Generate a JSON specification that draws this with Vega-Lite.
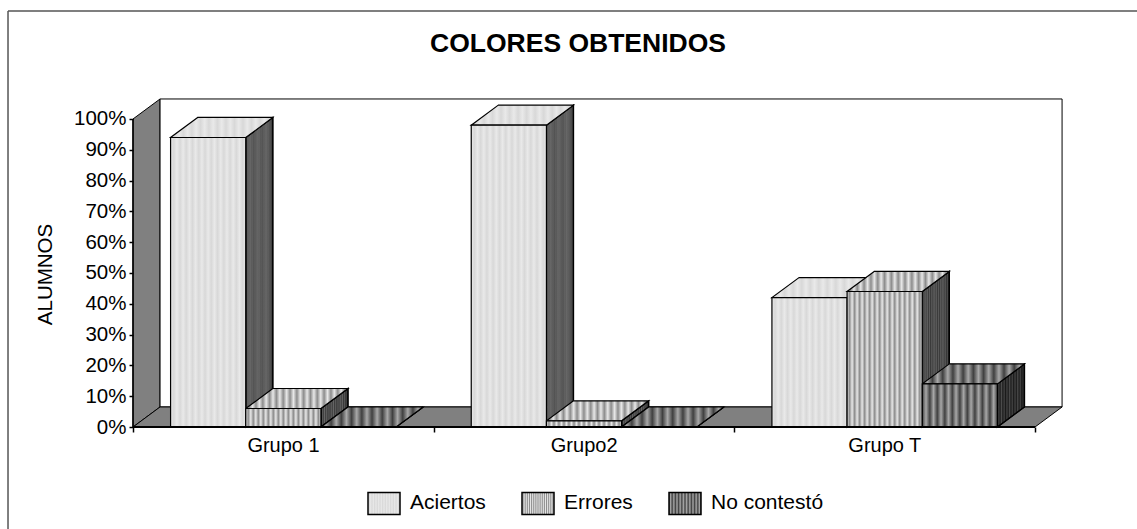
{
  "$schema": "https://vega.github.io/schema/vega-lite/v6.json",
  "width": 1004,
  "height": 427,
  "padding": {"left": 133, "top": 0, "right": 0, "bottom": 102},
  "autosize": {"type": "none"},
  "background": "white",
  "title": {"text": "COLORES OBTENIDOS", "anchor": "middle", "dx": -57, "dy": 57, "offset": 0, "font": "Liberation Sans", "fontSize": 26.5, "fontWeight": "bold", "color": "black"},
  "config": {"view": {"stroke": null}, "font": "Liberation Sans"},
  "params": [
    {"name": "tramas", "value": [
      {"gradient": "linear", "x1": 0, "y1": 0, "x2": 1, "y2": 0, "stops": [
        {"offset": 0, "color": "#e9e9e9"}, {"offset": 0.0417, "color": "#d8d8d8"}, {"offset": 0.0833, "color": "#e9e9e9"}, {"offset": 0.125, "color": "#d8d8d8"}, {"offset": 0.1667, "color": "#e9e9e9"}, {"offset": 0.2083, "color": "#d8d8d8"}, {"offset": 0.25, "color": "#e9e9e9"}, {"offset": 0.2917, "color": "#d8d8d8"}, {"offset": 0.3333, "color": "#e9e9e9"}, {"offset": 0.375, "color": "#d8d8d8"}, {"offset": 0.4167, "color": "#e9e9e9"}, {"offset": 0.4583, "color": "#d8d8d8"}, {"offset": 0.5, "color": "#e9e9e9"}, {"offset": 0.5417, "color": "#d8d8d8"}, {"offset": 0.5833, "color": "#e9e9e9"}, {"offset": 0.625, "color": "#d8d8d8"}, {"offset": 0.6667, "color": "#e9e9e9"}, {"offset": 0.7083, "color": "#d8d8d8"}, {"offset": 0.75, "color": "#e9e9e9"}, {"offset": 0.7917, "color": "#d8d8d8"}, {"offset": 0.8333, "color": "#e9e9e9"}, {"offset": 0.875, "color": "#d8d8d8"}, {"offset": 0.9167, "color": "#e9e9e9"}, {"offset": 0.9583, "color": "#d8d8d8"}, {"offset": 1, "color": "#e9e9e9"}
      ]},
      {"gradient": "linear", "x1": 0, "y1": 0, "x2": 1, "y2": 0, "stops": [
        {"offset": 0, "color": "#e8e8e8"}, {"offset": 0.0333, "color": "#8c8c8c"}, {"offset": 0.0667, "color": "#e8e8e8"}, {"offset": 0.1, "color": "#8c8c8c"}, {"offset": 0.1333, "color": "#e8e8e8"}, {"offset": 0.1667, "color": "#8c8c8c"}, {"offset": 0.2, "color": "#e8e8e8"}, {"offset": 0.2333, "color": "#8c8c8c"}, {"offset": 0.2667, "color": "#e8e8e8"}, {"offset": 0.3, "color": "#8c8c8c"}, {"offset": 0.3333, "color": "#e8e8e8"}, {"offset": 0.3667, "color": "#8c8c8c"}, {"offset": 0.4, "color": "#e8e8e8"}, {"offset": 0.4333, "color": "#8c8c8c"}, {"offset": 0.4667, "color": "#e8e8e8"}, {"offset": 0.5, "color": "#8c8c8c"}, {"offset": 0.5333, "color": "#e8e8e8"}, {"offset": 0.5667, "color": "#8c8c8c"}, {"offset": 0.6, "color": "#e8e8e8"}, {"offset": 0.6333, "color": "#8c8c8c"}, {"offset": 0.6667, "color": "#e8e8e8"}, {"offset": 0.7, "color": "#8c8c8c"}, {"offset": 0.7333, "color": "#e8e8e8"}, {"offset": 0.7667, "color": "#8c8c8c"}, {"offset": 0.8, "color": "#e8e8e8"}, {"offset": 0.8333, "color": "#8c8c8c"}, {"offset": 0.8667, "color": "#e8e8e8"}, {"offset": 0.9, "color": "#8c8c8c"}, {"offset": 0.9333, "color": "#e8e8e8"}, {"offset": 0.9667, "color": "#8c8c8c"}, {"offset": 1, "color": "#e8e8e8"}
      ]},
      {"gradient": "linear", "x1": 0, "y1": 0, "x2": 1, "y2": 0, "stops": [
        {"offset": 0, "color": "#404040"}, {"offset": 0.05, "color": "#a8a8a8"}, {"offset": 0.1, "color": "#404040"}, {"offset": 0.15, "color": "#a8a8a8"}, {"offset": 0.2, "color": "#404040"}, {"offset": 0.25, "color": "#a8a8a8"}, {"offset": 0.3, "color": "#404040"}, {"offset": 0.35, "color": "#a8a8a8"}, {"offset": 0.4, "color": "#404040"}, {"offset": 0.45, "color": "#a8a8a8"}, {"offset": 0.5, "color": "#404040"}, {"offset": 0.55, "color": "#a8a8a8"}, {"offset": 0.6, "color": "#404040"}, {"offset": 0.65, "color": "#a8a8a8"}, {"offset": 0.7, "color": "#404040"}, {"offset": 0.75, "color": "#a8a8a8"}, {"offset": 0.8, "color": "#404040"}, {"offset": 0.85, "color": "#a8a8a8"}, {"offset": 0.9, "color": "#404040"}, {"offset": 0.95, "color": "#a8a8a8"}, {"offset": 1, "color": "#404040"}
      ]}
    ]}
  ],
  "layer": [
    {
      "data": {"values": [{"marco_x": -0.4157, "marco_y": 135.06, "marco_y2": -33.2}]},
      "mark": {"type": "rule", "stroke": "#555555", "strokeWidth": 1.5},
      "encoding": {
        "x": {"field": "marco_x", "type": "quantitative", "scale": {"domain": [0, 3.3392], "nice": false, "zero": false}, "axis": {"orient": "bottom", "values": [0, 1, 2, 3], "title": null, "grid": false, "domain": false, "ticks": true, "tickSize": 5, "tickWidth": 1.5, "tickColor": "black", "labelExpr": "datum.value == 0 ? 'Grupo 1' : datum.value == 1 ? 'Grupo2' : datum.value == 2 ? 'Grupo T' : ''", "labelOffset": 150, "labelPadding": 3, "labelFontSize": 20, "labelColor": "black", "labelFlush": false, "labelOverlap": false, "labelFont": "Liberation Sans", "zindex": 1}},
        "y": {"field": "marco_y", "type": "quantitative", "scale": {"domain": [0, 138.636], "nice": false, "zero": false}, "axis": {"orient": "left", "values": [0, 10, 20, 30, 40, 50, 60, 70, 80, 90, 100], "title": "ALUMNOS", "titleFontSize": 20.5, "titleFontWeight": "normal", "titleColor": "black", "titleFont": "Liberation Sans", "titleX": -78, "titleY": 274, "grid": false, "domain": false, "tickSize": 4, "tickWidth": 1.5, "tickColor": "black", "labelExpr": "datum.value + '%'", "labelPadding": 3, "labelFontSize": 20.5, "labelColor": "black", "labelFont": "Liberation Sans", "labelOverlap": false, "labelFlush": false, "zindex": 1}},
        "y2": {"field": "marco_y2"}
      }
    },
    {
      "data": {"values": [{}]},
      "mark": {"type": "rule", "stroke": "#555555", "strokeWidth": 1.5},
      "encoding": {
        "x": {"datum": -0.4157, "type": "quantitative", "scale": {"domain": [0, 3.3392], "nice": false, "zero": false}},
        "x2": {"datum": 3.3392},
        "y": {"datum": 135.06, "type": "quantitative", "scale": {"domain": [0, 138.636], "nice": false, "zero": false}}
      }
    },
    {
      "data": {"values": [{"prof": 0}, {"prof": 1}]},
      "transform": [
        {"calculate": "datum.prof * 0.09", "as": "xp"},
        {"calculate": "3 + datum.prof * 0.09", "as": "xf"},
        {"calculate": "datum.prof * 6.5", "as": "yp"},
        {"calculate": "100 + datum.prof * 6.5", "as": "yt"}
      ],
      "layer": [
        {
          "mark": {"type": "area", "fill": "#808080", "stroke": "black", "strokeWidth": 1},
          "encoding": {
            "x": {"field": "xp", "type": "quantitative", "scale": {"domain": [0, 3.3392], "nice": false, "zero": false}},
            "y": {"field": "yt", "type": "quantitative", "scale": {"domain": [0, 138.636], "nice": false, "zero": false}},
            "y2": {"field": "yp"}
          }
        },
        {
          "mark": {"type": "rect", "fill": "white", "stroke": "black", "strokeWidth": 1},
          "transform": [{"filter": "datum.prof == 1"}],
          "encoding": {
            "x": {"field": "xp", "type": "quantitative", "scale": {"domain": [0, 3.3392], "nice": false, "zero": false}},
            "x2": {"field": "xf"},
            "y": {"field": "yt", "type": "quantitative", "scale": {"domain": [0, 138.636], "nice": false, "zero": false}},
            "y2": {"field": "yp"}
          }
        },
        {
          "mark": {"type": "area", "orient": "horizontal", "fill": "#808080", "stroke": "black", "strokeWidth": 1},
          "encoding": {
            "y": {"field": "yp", "type": "quantitative", "scale": {"domain": [0, 138.636], "nice": false, "zero": false}},
            "x": {"field": "xp", "type": "quantitative", "scale": {"domain": [0, 3.3392], "nice": false, "zero": false}},
            "x2": {"field": "xf"}
          }
        }
      ]
    },
    {
      "data": {"values": [
        {"grupo": "Grupo 1", "serie": "Aciertos", "valor": 94},
        {"grupo": "Grupo 1", "serie": "Errores", "valor": 6},
        {"grupo": "Grupo 1", "serie": "No contestó", "valor": 0},
        {"grupo": "Grupo2", "serie": "Aciertos", "valor": 98},
        {"grupo": "Grupo2", "serie": "Errores", "valor": 2},
        {"grupo": "Grupo2", "serie": "No contestó", "valor": 0},
        {"grupo": "Grupo T", "serie": "Aciertos", "valor": 42},
        {"grupo": "Grupo T", "serie": "Errores", "valor": 44},
        {"grupo": "Grupo T", "serie": "No contestó", "valor": 14}
      ]},
      "transform": [
        {"calculate": "indexof(['Grupo 1', 'Grupo2', 'Grupo T'], datum.grupo)", "as": "g"},
        {"calculate": "indexof(['Aciertos', 'Errores', 'No contestó'], datum.serie)", "as": "s"},
        {"calculate": "datum.grupo + '|' + datum.serie", "as": "barra"},
        {"calculate": "[0, 1]", "as": "prof"},
        {"flatten": ["prof"]},
        {"calculate": "datum.g + 0.125 + 0.25 * datum.s + datum.prof * 0.09", "as": "xi"},
        {"calculate": "datum.xi + 0.25", "as": "xd"},
        {"calculate": "datum.valor + datum.prof * 6.5", "as": "ys"},
        {"calculate": "datum.prof * 6.5", "as": "yb"}
      ],
      "layer": [
        {
          "mark": {"type": "area", "stroke": "black", "strokeWidth": 1.2, "fill": {"expr": "tramas[datum.s]"}},
          "encoding": {
            "x": {"field": "xd", "type": "quantitative", "scale": {"domain": [0, 3.3392], "nice": false, "zero": false}},
            "y": {"field": "ys", "type": "quantitative", "scale": {"domain": [0, 138.636], "nice": false, "zero": false}},
            "y2": {"field": "yb"},
            "detail": {"field": "barra"}
          }
        },
        {
          "mark": {"type": "area", "stroke": "black", "strokeWidth": 1.2, "fill": {"gradient": "linear", "x1": 0, "y1": 0, "x2": 1, "y2": 0, "stops": [
            {"offset": 0, "color": "rgba(0,0,0,0.62)"}, {"offset": 0.15, "color": "rgba(0,0,0,0.55)"}, {"offset": 0.3, "color": "rgba(0,0,0,0.62)"}, {"offset": 0.45, "color": "rgba(0,0,0,0.55)"}, {"offset": 0.6, "color": "rgba(0,0,0,0.62)"}, {"offset": 0.75, "color": "rgba(0,0,0,0.55)"}, {"offset": 0.88, "color": "rgba(0,0,0,0.62)"}, {"offset": 1, "color": "rgba(0,0,0,0.75)"}
          ]}},
          "encoding": {
            "x": {"field": "xd", "type": "quantitative", "scale": {"domain": [0, 3.3392], "nice": false, "zero": false}},
            "y": {"field": "ys", "type": "quantitative", "scale": {"domain": [0, 138.636], "nice": false, "zero": false}},
            "y2": {"field": "yb"},
            "detail": {"field": "barra"}
          }
        },
        {
          "mark": {"type": "area", "orient": "horizontal", "stroke": "black", "strokeWidth": 1.2, "fill": {"expr": "tramas[datum.s]"}},
          "encoding": {
            "y": {"field": "ys", "type": "quantitative", "scale": {"domain": [0, 138.636], "nice": false, "zero": false}},
            "x": {"field": "xi", "type": "quantitative", "scale": {"domain": [0, 3.3392], "nice": false, "zero": false}},
            "x2": {"field": "xd"},
            "detail": {"field": "barra"}
          }
        },
        {
          "transform": [{"filter": "datum.prof == 0"}],
          "mark": {"type": "rect", "stroke": "black", "strokeWidth": 1.2, "fill": {"expr": "tramas[isValid(datum.s) ? datum.s : indexof(['Aciertos', 'Errores', 'No contestó'], datum.value)]"}},
          "encoding": {
            "x": {"field": "xi", "type": "quantitative", "scale": {"domain": [0, 3.3392], "nice": false, "zero": false}},
            "x2": {"field": "xd"},
            "y": {"field": "valor", "type": "quantitative", "scale": {"domain": [0, 138.636], "nice": false, "zero": false}},
            "y2": {"field": "yb"},
            "opacity": {"field": "serie", "type": "ordinal", "scale": {"range": [1, 1, 1]}, "legend": {"orient": "none", "legendX": 234, "legendY": 486, "direction": "horizontal", "columns": 3, "title": null, "padding": 0, "columnPadding": 33, "symbolType": "M-1,-0.69H1V0.69H-1Z", "symbolSize": 1024, "labelFontSize": 21, "labelColor": "black", "labelFont": "Liberation Sans", "labelOffset": 9, "labelLimit": 300}}
          }
        }
      ]
    },
    {
      "data": {"values": [{}]},
      "mark": {"type": "rule", "stroke": "black", "strokeWidth": 2},
      "encoding": {
        "x": {"datum": 0, "type": "quantitative", "scale": {"domain": [0, 3.3392], "nice": false, "zero": false}},
        "x2": {"datum": 3},
        "y": {"datum": 0, "type": "quantitative", "scale": {"domain": [0, 138.636], "nice": false, "zero": false}}
      }
    },
    {
      "data": {"values": [{}]},
      "mark": {"type": "rule", "stroke": "black", "strokeWidth": 1.5},
      "encoding": {
        "x": {"datum": 0, "type": "quantitative", "scale": {"domain": [0, 3.3392], "nice": false, "zero": false}},
        "y": {"datum": 0, "type": "quantitative", "scale": {"domain": [0, 138.636], "nice": false, "zero": false}},
        "y2": {"datum": 100}
      }
    }
  ]
}
